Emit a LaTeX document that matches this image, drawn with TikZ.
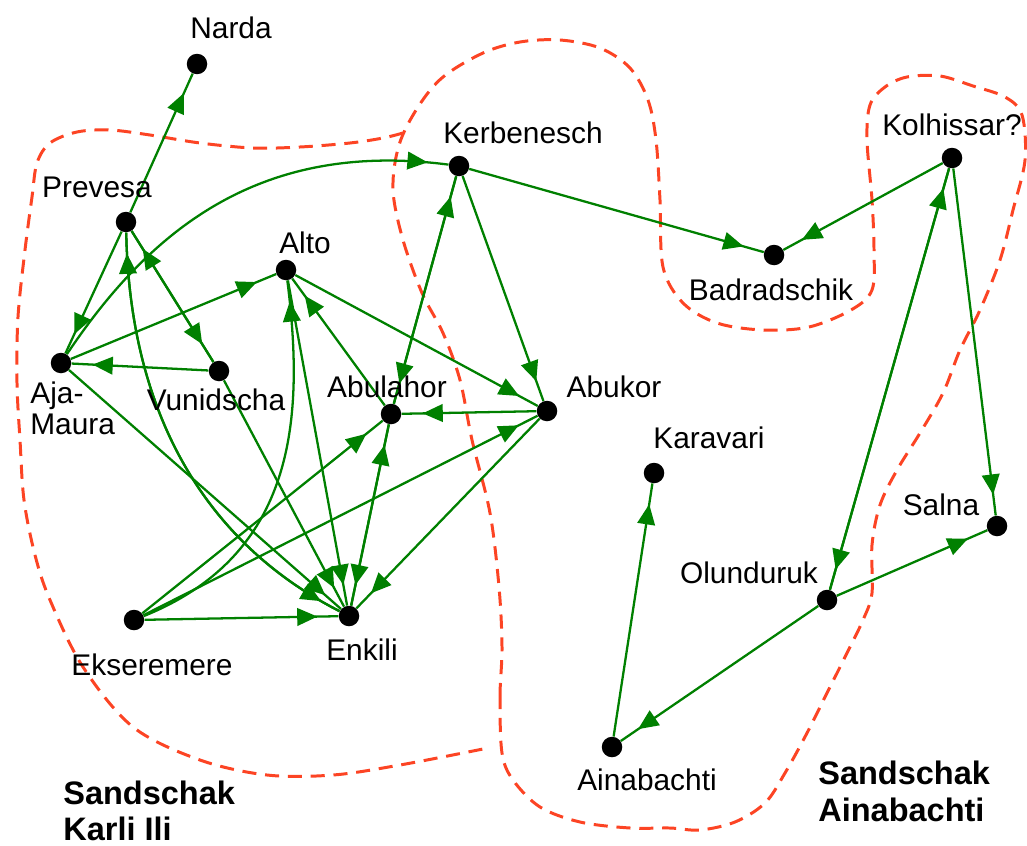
\documentclass[tikz,border=0pt]{standalone}
\usepackage{fontspec}
\setmainfont{Liberation Sans}
\usetikzlibrary{arrows.meta,decorations.markings}
\definecolor{roadgreen}{RGB}{0,128,0}
\definecolor{borderred}{RGB}{252,68,36}
\tikzset{
  town/.style={circle,fill=black,inner sep=0pt,minimum size=0.41cm},
  townname/.style={anchor=base,inner sep=0pt,font=\fontsize{17}{20}\selectfont},
  regionname/.style={anchor=base west,inner sep=0pt,font=\bfseries\fontsize{18.5}{22}\selectfont},
  road/.style={draw=roadgreen,line width=1.3pt,postaction={decorate},
    decoration={markings,mark=at position -0.42cm with {\arrow{Triangle[length=11.5pt,width=10pt]}}}},
  sandschak/.style={draw=borderred,line width=1.7pt,dash pattern=on 8pt off 5pt}
}
\begin{document}
\begin{tikzpicture}[x=0.02cm,y=-0.02cm]
  \useasboundingbox (0,0) rectangle (1027,845);
  % Sandschak borders
  \draw[sandschak] plot[smooth,tension=0.55] coordinates {(403,133) (383,138) (350,143) (300,147)
    (253,148) (200,143) (150,135) (110,130) (77,132) (50,143) (37,163) (32,197) (25,250) (18,317)
    (17,383) (20,440) (24,500) (35,555) (50,600) (83,667) (133,727) (200,760) (267,775) (333,775)
    (400,765) (483,749)};
  \draw[sandschak] plot[smooth cycle,tension=0.55] coordinates {(502,753) (500,697) (502,647)
    (499,587) (490,513) (472,440) (460,380) (443,333) (422,293) (403,240) (393,190) (399,145)
    (418,107) (443,77) (483,53) (520,42) (560,40) (600,48) (630,68) (648,100) (656,140) (660,200)
    (663,267) (683,303) (717,323) (763,330) (809,327) (851,310) (872,290) (874,250) (872,200)
    (867,140) (870,105) (885,87) (907,77) (940,76) (973,86) (1005,97) (1022,115) (1025,160)
    (1013,210) (1000,260) (980,310) (960,350) (943,393) (920,433) (897,470) (880,505) (872,545)
    (872,593) (863,620) (847,653) (827,693) (807,733) (785,773) (765,803) (735,822) (700,830)
    (670,828) (630,828) (580,822) (540,807) (513,780)};
  % towns
  \node[town] (narda) at (197,64) {};
  \node[town] (prevesa) at (126,222) {};
  \node[town] (kerbenesch) at (459,166) {};
  \node[town] (kolhissar) at (952,158) {};
  \node[town] (badradschik) at (774,255) {};
  \node[town] (alto) at (286,270) {};
  \node[town] (ajamaura) at (61,363) {};
  \node[town] (vunidscha) at (219,371) {};
  \node[town] (abulahor) at (391,414) {};
  \node[town] (abukor) at (547,411) {};
  \node[town] (karavari) at (654,473) {};
  \node[town] (salna) at (997,526) {};
  \node[town] (olunduruk) at (827,600) {};
  \node[town] (ekseremere) at (134,620) {};
  \node[town] (enkili) at (349,616) {};
  \node[town] (ainabachti) at (612,747) {};
  % roads
  \draw[road] (prevesa) -- (narda); \draw[road] (prevesa) -- (ajamaura);
  \draw[road] (prevesa) -- (vunidscha); \draw[road] (vunidscha) -- (prevesa);
  \draw[road] (prevesa) .. controls (130,420) and (210,545) .. (enkili);
  \draw[road] (enkili) .. controls (210,545) and (130,420) .. (prevesa);
  \draw[road] (ajamaura) .. controls (150,230) and (260,140) .. (kerbenesch);
  \draw[road] (ajamaura) -- (alto); \draw[road] (vunidscha) -- (ajamaura);
  \draw[road] (ajamaura) -- (enkili); \draw[road] (vunidscha) -- (enkili);
  \draw[road] (alto) -- (enkili);
  \draw[road] (ekseremere) .. controls (295,555) and (305,420) .. (alto);
  \draw[road] (abulahor) -- (alto); \draw[road] (alto) -- (abukor);
  \draw[road] (kerbenesch) -- (abukor);
  \draw[road] (kerbenesch) -- (abulahor); \draw[road] (abulahor) -- (kerbenesch);
  \draw[road] (abulahor) -- (enkili); \draw[road] (enkili) -- (abulahor);
  \draw[road] (abukor) -- (abulahor); \draw[road] (abukor) -- (enkili);
  \draw[road] (ekseremere) -- (abulahor); \draw[road] (ekseremere) -- (abukor);
  \draw[road] (ekseremere) -- (enkili);
  \draw[road] (kerbenesch) -- (badradschik); \draw[road] (kolhissar) -- (badradschik);
  \draw[road] (olunduruk) -- (kolhissar); \draw[road] (kolhissar) -- (olunduruk);
  \draw[road] (kolhissar) -- (salna); \draw[road] (olunduruk) -- (salna);
  \draw[road] (olunduruk) -- (ainabachti); \draw[road] (ainabachti) -- (karavari);
  % names
  \node[townname] (nardaL) at (231,38) {Narda};
  \node[townname] (prevesaL) at (97,197) {Prevesa};
  \node[townname] (altoL) at (305,253) {Alto};
  \node[townname,anchor=base west] (ajaL) at (30,403) {Aja-};
  \node[townname,anchor=base west] (mauraL) at (30,434) {Maura};
  \node[townname] (vunidschaL) at (216,410) {Vunidscha};
  \node[townname] (abulahorL) at (387,397) {Abulahor};
  \node[townname] (abukorL) at (614,397) {Abukor};
  \node[townname] (kerbeneschL) at (523,143) {Kerbenesch};
  \node[townname] (badradschikL) at (771,300) {Badradschik};
  \node[townname] (kolhissarL) at (952,135) {Kolhissar?};
  \node[townname] (karavariL) at (709,448) {Karavari};
  \node[townname] (salnaL) at (941,515) {Salna};
  \node[townname] (olundurukL) at (749,583) {Olunduruk};
  \node[townname] (ainabachtiL) at (647,790) {Ainabachti};
  \node[townname] (ekseremereL) at (152,675) {Ekseremere};
  \node[townname] (enkiliL) at (362,660) {Enkili};
  \node[regionname] (karliA) at (63,804) {Sandschak};
  \node[regionname] (karliB) at (63,840) {Karli Ili};
  \node[regionname] (ainaA) at (818,784) {Sandschak};
  \node[regionname] (ainaB) at (818,821) {Ainabachti};
\end{tikzpicture}
\end{document}
